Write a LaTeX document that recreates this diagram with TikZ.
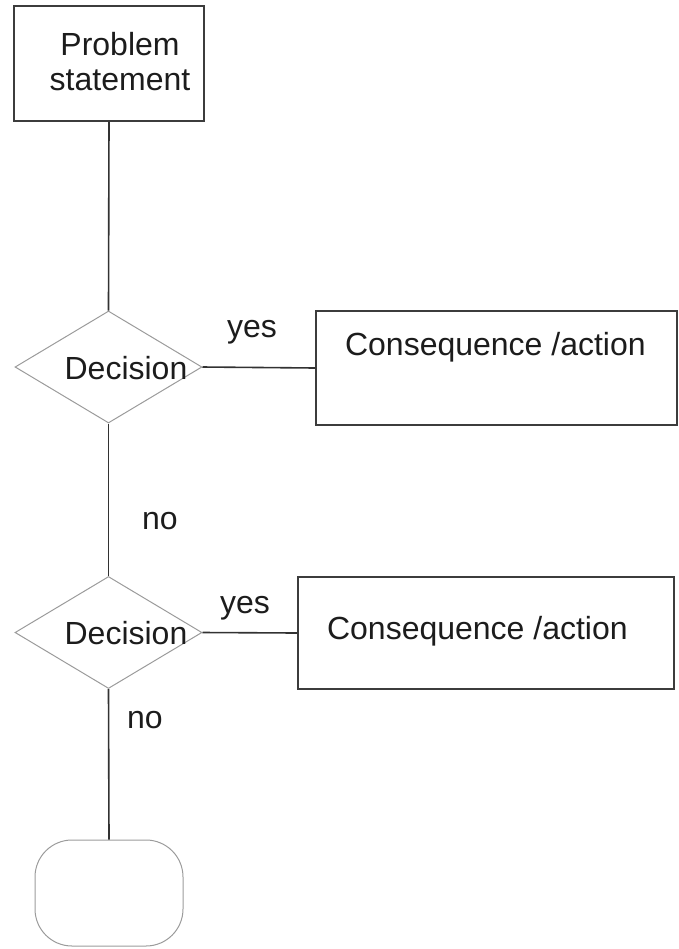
\documentclass[tikz,border=0pt]{standalone}
\usepackage{xcolor}
\usepackage{fontspec}
\setmainfont{Liberation Sans}
\usepackage{tikz}
\usetikzlibrary{calc,positioning,shapes.geometric}
\definecolor{boxGray}{RGB}{60,60,60}
\definecolor{diaGray}{RGB}{155,155,155}
\definecolor{lineDark}{RGB}{50,50,50}
\definecolor{txtDark}{RGB}{28,28,28}

\begin{document}
\begin{tikzpicture}[x=0.5pt, y=-0.5pt,
    every node/.style={font=\fontsize{16}{17.5}\selectfont, text=txtDark},
    stmtbox/.style={draw=boxGray, line width=0.8pt, rectangle, inner sep=0pt},
    decbox/.style={draw=diaGray, line width=0.5pt, diamond, inner sep=0pt,
        minimum width=93.5pt, minimum height=56pt},
    endbox/.style={draw=diaGray, line width=0.5pt, rectangle, rounded corners=18.5pt,
        inner sep=0pt, minimum width=74pt, minimum height=53pt},
    link/.style={draw=lineDark, line width=0.8pt}]
    \useasboundingbox (0,0) rectangle (679,949);

    % problem statement
    \node[stmtbox, minimum width=95pt, minimum height=57.5pt] (prob) at (109,63.5) {};
    \node[align=center] (probtxt) at (120,62) {Problem\\statement};

    % first decision
    \node[decbox] (dec1) at (108.5,367) {};
    \node (dec1txt) at (126,368) {Decision};
    \node[stmtbox, minimum width=180.5pt, minimum height=57pt] (act1) at (496.5,368) {};
    \node[anchor=west] (act1txt) at (338,347) {Consequence /action};

    % second decision
    \node[decbox] (dec2) at (108.5,632.5) {};
    \node (dec2txt) at (126,633) {Decision};
    \node[stmtbox, minimum width=188pt, minimum height=56pt] (act2) at (486,633) {};
    \node[anchor=west] (act2txt) at (320,631) {Consequence /action};

    % terminal
    \node[endbox] (term) at (109,893) {};

    % connectors
    \draw[link] (prob.south) -- (dec1.north);
    \draw[link] (dec1.east) -- (act1.west);
    \draw[link] (dec1.south) -- (dec2.north);
    \draw[link] (dec2.east) -- (act2.west);
    \draw[link] (dec2.south) -- (term.north);

    % labels
    \node (yes1) at (252,332) {yes};
    \node (no1) at (160,521) {no};
    \node (yes2) at (245,608) {yes};
    \node (no2) at (145,720) {no};
\end{tikzpicture}
\end{document}
